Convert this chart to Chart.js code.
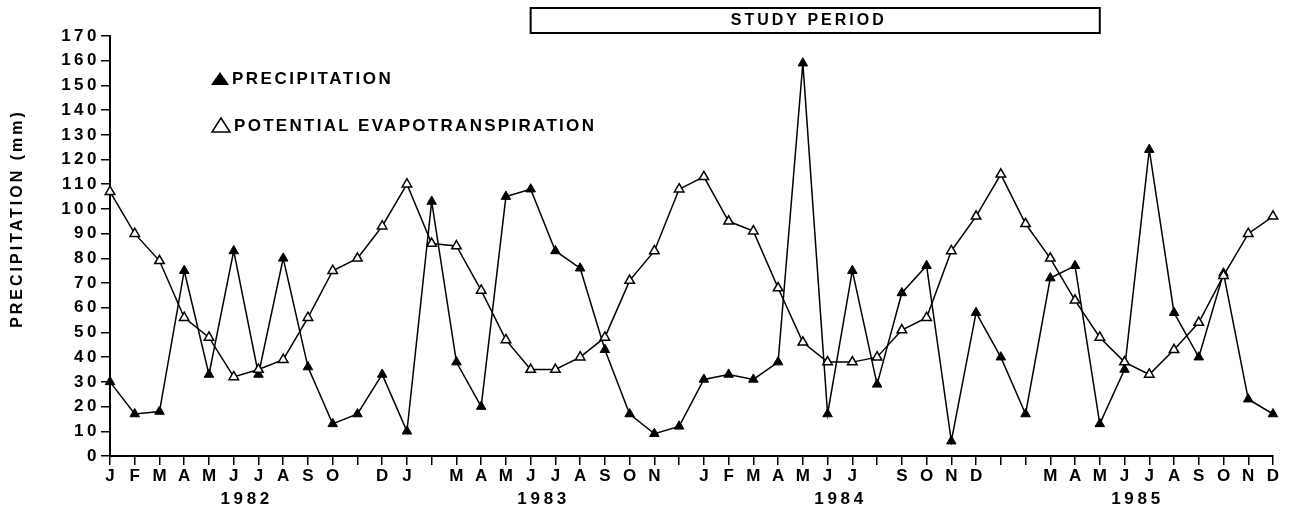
<!DOCTYPE html>
<html>
<head>
<meta charset="utf-8">
<script src="https://cdn.jsdelivr.net/npm/chart.js@4"></script>
<style>
  html, body { margin: 0; padding: 0; background: #fff; }
  #wrap { position: relative; width: 1289px; height: 511px; }
</style>
</head>
<body>
<div id="wrap"><canvas id="c"></canvas></div>
<script>
// ---- data ----
const years = ['1982', '1983', '1984', '1985'];
const monthNames = ['J','F','M','A','M','J','J','A','S','O','N','D'];
const categories = years.flatMap(y => monthNames.map((m, i) => y + '-' + (i + 1)));
// tick labels as printed (some months unlabelled in the original)
const tickLabels = [
  'J','F','M','A','M','J','J','A','S','O','','D',
  'J','','M','A','M','J','J','A','S','O','N','',
  'J','F','M','A','M','J','J','','S','O','N','D',
  '','','M','A','M','J','J','A','S','O','N','D'
];
const precipitation = [
  30, 17, 18, 75, 33, 83, 33, 80, 36, 13, 17, 33,
  10, 103, 38, 20, 105, 108, 83, 76, 43, 17, 9, 12,
  31, 33, 31, 38, 159, 17, 75, 29, 66, 77, 6, 58,
  40, 17, 72, 77, 13, 35, 124, 58, 40, 74, 23, 17
];
const evapotranspiration = [
  107, 90, 79, 56, 48, 32, 35, 39, 56, 75, 80, 93,
  110, 86, 85, 67, 47, 35, 35, 40, 48, 71, 83, 108,
  113, 95, 91, 68, 46, 38, 38, 40, 51, 56, 83, 97,
  114, 94, 80, 63, 48, 38, 33, 43, 54, 73, 90, 97
];
const seriesNames = ['PRECIPITATION', 'POTENTIAL EVAPOTRANSPIRATION'];
const yTitle = 'PRECIPITATION (mm)';
const studyLabel = 'STUDY PERIOD';
const studyStartIndex = 17; // Jun 1983
const studyEndIndex = 40;   // May 1985

const FONT = '"Liberation Sans", Arial, Helvetica, sans-serif';

function spacedText(ctx, text, x, y, spacing, align) {
  ctx.letterSpacing = spacing + 'px';
  ctx.textAlign = align;
  let dx = 0;
  if (align === 'center') dx = spacing / 2;
  ctx.fillText(text, x + dx, y);
}

const decor = {
  id: 'decor',
  beforeDraw(chart) {
    chart.ctx.letterSpacing = '3.5px';
  },
  afterDraw(chart) {
    const ctx = chart.ctx;
    const x = chart.scales.x;
    ctx.save();
    ctx.fillStyle = '#000';
    ctx.strokeStyle = '#000';
    ctx.textBaseline = 'middle';

    // year labels
    ctx.font = 'bold 17px ' + FONT;
    years.forEach((yr, i) => {
      spacedText(ctx, yr, x.getPixelForValue(i * 12 + 5.45), 499, 3.7, 'center');
    });

    // y axis title
    ctx.save();
    ctx.translate(18, 220);
    ctx.rotate(-Math.PI / 2);
    ctx.font = 'bold 16px ' + FONT;
    spacedText(ctx, yTitle, 0, 0, 3, 'center');
    ctx.restore();

    // legend
    ctx.font = 'bold 17px ' + FONT;
    ctx.lineWidth = 1.5;
    // filled triangle
    ctx.beginPath();
    ctx.moveTo(220, 72); ctx.lineTo(229, 85); ctx.lineTo(211, 85); ctx.closePath();
    ctx.fill();
    spacedText(ctx, seriesNames[0], 232, 79, 2.5, 'left');
    // open triangle
    ctx.beginPath();
    ctx.moveTo(221, 118); ctx.lineTo(230, 132); ctx.lineTo(212, 132); ctx.closePath();
    ctx.fillStyle = '#fff'; ctx.fill();
    ctx.stroke();
    ctx.fillStyle = '#000';
    spacedText(ctx, seriesNames[1], 234, 126, 2.3, 'left');

    // study period box
    const bx0 = x.getPixelForValue(studyStartIndex);
    const bx1 = x.getPixelForValue(studyEndIndex);
    ctx.lineWidth = 2;
    ctx.strokeRect(bx0, 8, bx1 - bx0, 25);
    ctx.font = 'bold 16px ' + FONT;
    spacedText(ctx, studyLabel, (bx0 + bx1) / 2 - 8, 21, 3, 'center');
    ctx.restore();
  }
};

Chart.defaults.font.family = FONT;
Chart.defaults.font.weight = 'bold';
Chart.defaults.font.size = 17;
Chart.defaults.color = '#000';

new Chart(document.getElementById('c'), {
  type: 'line',
  data: {
    labels: categories,
    datasets: [
      {
        label: seriesNames[1],
        data: evapotranspiration,
        borderColor: '#000',
        borderWidth: 1.5,
        pointStyle: 'triangle',
        pointRadius: 5.5,
        pointBackgroundColor: '#fff',
        pointBorderColor: '#000',
        pointBorderWidth: 1.5,
        tension: 0,
        clip: false
      },
      {
        label: seriesNames[0],
        data: precipitation,
        borderColor: '#000',
        borderWidth: 1.5,
        pointStyle: 'triangle',
        pointRadius: 5.5,
        pointBackgroundColor: '#000',
        pointBorderColor: '#000',
        pointBorderWidth: 1,
        tension: 0,
        clip: false
      }
    ]
  },
  options: {
    responsive: true,
    maintainAspectRatio: false,
    animation: false,
    events: [],
    layout: { padding: { left: 0, right: 16, top: 36, bottom: 0 } },
    plugins: { legend: { display: false }, tooltip: { enabled: false } },
    scales: {
      x: {
        type: 'category',
        offset: false,
        grid: { drawOnChartArea: false, drawTicks: true, tickLength: 9, color: '#000', lineWidth: 1.5 },
        border: { display: true, color: '#000', width: 2 },
        ticks: {
          autoSkip: false, maxRotation: 0, minRotation: 0, padding: 1, labelOffset: 1.75,
          font: { size: 17, weight: 'bold' },
          callback: (v, i) => tickLabels[i]
        },
        afterFit: s => { s.height = 55; }
      },
      y: {
        min: 0, max: 170,
        grid: { drawOnChartArea: false, drawTicks: true, tickLength: 9, color: '#000', lineWidth: 1.5 },
        border: { display: true, color: '#000', width: 2 },
        ticks: { stepSize: 10, padding: 1, font: { size: 17, weight: 'bold' } },
        afterFit: s => { s.width = 110; }
      }
    }
  },
  plugins: [decor]
});
</script>
</body>
</html>
